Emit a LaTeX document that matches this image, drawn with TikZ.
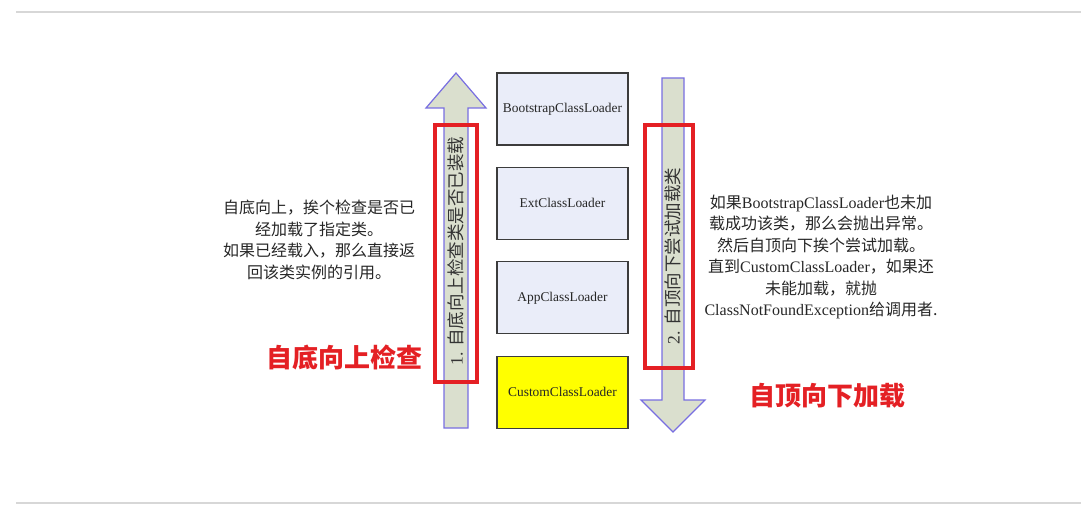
\documentclass[tikz,border=0pt]{standalone}
\usepackage{fontspec}
\setmainfont{Liberation Serif}
\newfontfamily\cjk{Noto Sans CJK SC}
\usetikzlibrary{positioning}
\definecolor{LoaderGray}{RGB}{60,60,60}
\definecolor{LoaderFill}{RGB}{234,237,249}
\definecolor{CustomYellow}{RGB}{255,255,0}
\definecolor{ArrowFill}{RGB}{218,223,206}
\definecolor{ArrowEdge}{RGB}{120,110,225}
\definecolor{MarkRed}{RGB}{228,32,36}
\definecolor{RuleGray}{RGB}{215,215,215}

\begin{document}
\begin{tikzpicture}[x=1pt, y=-1pt, node distance=21.2pt, box/.style={draw=LoaderGray,line width=1.2pt,fill=LoaderFill,minimum width=131pt,minimum height=72pt,inner sep=0pt,text=black!85,font=\fontsize{13.4}{16}\selectfont}, bigarrow/.style={draw=ArrowEdge,line width=1.2pt,fill=ArrowFill}, redframe/.style={draw=MarkRed,line width=4.5pt}, note/.style={align=center,text=black!85,font=\cjk\fontsize{16}{21.4}\selectfont}, title/.style={text=MarkRed,font=\cjk\bfseries\fontsize{26}{30}\selectfont}, vlabel/.style={rotate=90,text=black!80,font=\fontsize{17.5}{19}\selectfont}]
\useasboundingbox (0,0) rectangle (1087,516);
\draw[RuleGray,line width=1.5pt] (16,12) -- (1081,12);
\draw[RuleGray,line width=1.5pt] (16,503) -- (1081,503);
% class loaders
\node[box] (boot) at (562.5,109) {BootstrapClassLoader};
\node[box,below=of boot] (ext) {ExtClassLoader};
\node[box,below=of ext] (app) {AppClassLoader};
\node[box,below=of app,fill=CustomYellow] (custom) {CustomClassLoader};
% block arrows
\draw[bigarrow] (444,428) -- (444,108) -- (426,108) -- (456,73) -- (486,108) -- (468,108) -- (468,428) -- cycle;
\draw[bigarrow] (662,78) -- (684,78) -- (684,400) -- (705,400) -- (673,432) -- (641,400) -- (662,400) -- cycle;
\node[vlabel] (check) at (456,251) {1. {\cjk 自底向上检查类是否已装载}};
\node[vlabel] (load) at (673,256) {2. {\cjk 自顶向下尝试加载类}};
\draw[redframe] (435,125) rectangle (477,382);
\draw[redframe] (645,125) rectangle (693,368);
% notes
\node[note] (upnote) at (319,240) {自底向上，挨个检查是否已\\经加载了指定类。\\如果已经载入，那么直接返\\回该类实例的引用。};
\node[note] (downnote) at (821,257) {如果{\rmfamily BootstrapClassLoader}也未加\\载成功该类，那么会抛出异常。\\然后自顶向下挨个尝试加载。\\直到{\rmfamily CustomClassLoader}，如果还\\未能加载，就抛\\{\rmfamily ClassNotFoundException}给调用者.};
\node[title] (uptitle) at (344,357) {自底向上检查};
\node[title] (downtitle) at (827,396) {自顶向下加载};
\end{tikzpicture}
\end{document}
